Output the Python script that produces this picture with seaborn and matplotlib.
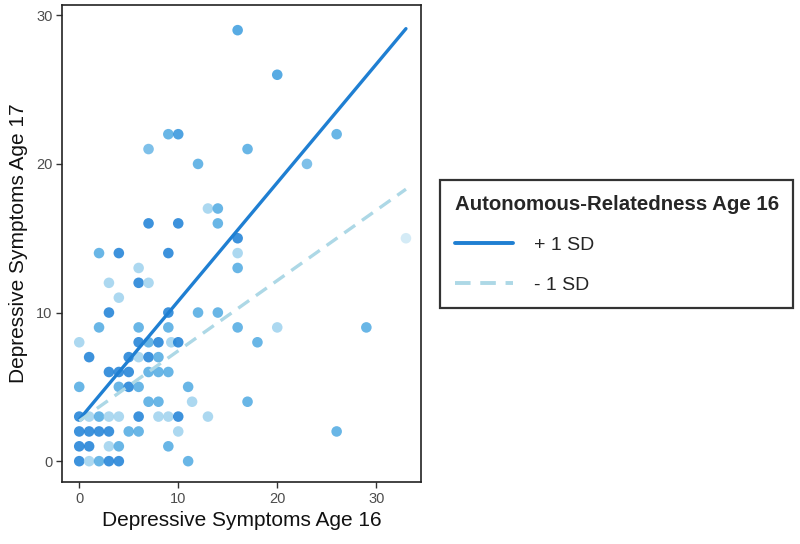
import matplotlib
matplotlib.use("Agg")
import matplotlib.pyplot as plt
import seaborn as sns
import pandas as pd
import numpy as np
from matplotlib.colors import LinearSegmentedColormap
from matplotlib.lines import Line2D

# ---- data ----
xs = [0, 1, 2, 3, 4, 11,
      0, 1, 3, 4, 9,
      0, 1, 2, 3, 5, 6, 10, 26,
      0, 1, 2, 3, 4, 6, 8, 9, 10, 13,
      7, 8, 11.4, 17,
      0, 4, 5, 6, 11,
      3, 4, 5, 7, 8, 9,
      1, 5, 6, 7, 8,
      0, 6, 7, 8, 9.3, 10, 18,
      2, 6, 9, 16, 20, 29,
      3, 9, 12, 14,
      4,
      3, 6, 7,
      6, 16,
      2, 4, 9, 16,
      16, 33,
      7, 10, 14,
      13, 14,
      12, 23,
      7, 17,
      9, 10, 26,
      20,
      16]
ys = [0, 0, 0, 0, 0, 0,
      1, 1, 1, 1, 1,
      2, 2, 2, 2, 2, 2, 2, 2,
      3, 3, 3, 3, 3, 3, 3, 3, 3, 3,
      4, 4, 4, 4,
      5, 5, 5, 5, 5,
      6, 6, 6, 6, 6, 6,
      7, 7, 7, 7, 7,
      8, 8, 8, 8, 8, 8, 8,
      9, 9, 9, 9, 9, 9,
      10, 10, 10, 10,
      11,
      12, 12, 12,
      13, 13,
      14, 14, 14, 14,
      15, 15,
      16, 16, 16,
      17, 17,
      20, 20,
      21, 21,
      22, 22, 22,
      26,
      29]
# autonomous-relatedness shade (1 = high, 0 = low)
shades = [1, .25, .6, 1, 1, .6,
          1, 1, .25, .6, .6,
          1, 1, 1, 1, .6, .6, .25, .6,
          1, .25, .6, .25, .25, 1, .25, .25, 1, .25,
          .6, .6, .25, .6,
          .6, .6, 1, .6, .6,
          1, 1, 1, .6, .6, .6,
          1, 1, .25, 1, .6,
          .25, 1, .6, 1, .25, 1, .6,
          .6, .6, .6, .6, .25, .6,
          1, 1, .6, .6,
          .25,
          .25, 1, .25,
          .25, .6,
          .6, 1, 1, .25,
          1, 0,
          1, 1, .6,
          .25, .6,
          .6, .5,
          .5, .6,
          .6, .8, .6,
          .7,
          .7]

line_x = [0, 33]
plus_sd = [2.8, 29.1]
minus_sd = [2.7, 18.3]
legend_title = "Autonomous-Relatedness Age 16"
legend_labels = ["+ 1 SD", "- 1 SD"]

pts = pd.DataFrame({"x": xs, "y": ys, "shade": shades})
lines = pd.DataFrame({
    "x": line_x + line_x,
    "y": plus_sd + minus_sd,
    "group": [legend_labels[0]] * 2 + [legend_labels[1]] * 2,
})

# ---- style ----
sns.set_theme(style="white")
plt.rcParams["font.family"] = ["Liberation Sans", "DejaVu Sans"]

dark = "#1f7fd2"
light = "#add8e6"
cmap = LinearSegmentedColormap.from_list("ar", ["#cde8f5", "#8fcbec", "#3fa0e0", "#1b7fd6"])

fig = plt.figure(figsize=(8, 5.44), dpi=100)
ax = fig.add_axes([0.078, 0.114, 0.448, 0.877])

sns.scatterplot(data=pts, x="x", y="y", hue="shade", palette=cmap, hue_norm=(0, 1),
                s=58, alpha=0.85, edgecolor=None, linewidth=0, legend=False, ax=ax)
sns.lineplot(data=lines, x="x", y="y", hue="group", style="group",
             palette={legend_labels[0]: dark, legend_labels[1]: light},
             dashes={legend_labels[0]: "", legend_labels[1]: (4, 2.5)},
             linewidth=2.4, legend=False, ax=ax)

ax.set_xlim(-1.7, 34.5)
ax.set_ylim(-1.4, 30.7)
ax.set_xticks([0, 10, 20, 30])
ax.set_yticks([0, 10, 20, 30])
ax.set_xlabel("Depressive Symptoms Age 16", fontsize=15, color="#111111", labelpad=4)
ax.set_ylabel("Depressive Symptoms Age 17", fontsize=15, color="#111111", labelpad=6)
ax.tick_params(axis="both", which="both", direction="out", length=4, width=1,
               color="#333333", labelcolor="#4d4d4d", labelsize=10.5, bottom=True, left=True, pad=3)
for sp in ax.spines.values():
    sp.set_visible(True)
    sp.set_color("#222222")
    sp.set_linewidth(1.2)

handles = [Line2D([0], [0], color=dark, lw=2.8),
           Line2D([0], [0], color=light, lw=2.8, dashes=(4, 2.5))]
leg = fig.legend(handles, legend_labels, title=legend_title, loc="center left",
                 bbox_to_anchor=(0.55, 0.551), borderaxespad=0, frameon=True, fancybox=False,
                 fontsize=14, title_fontsize=14.7, handlelength=3.0, handletextpad=1.1,
                 labelspacing=1.15, borderpad=0.75, alignment="left")
leg.get_title().set_fontweight("bold")
leg.get_frame().set_edgecolor("black")
leg.get_frame().set_linewidth(1.6)

fig.savefig("out.png", dpi=100)
